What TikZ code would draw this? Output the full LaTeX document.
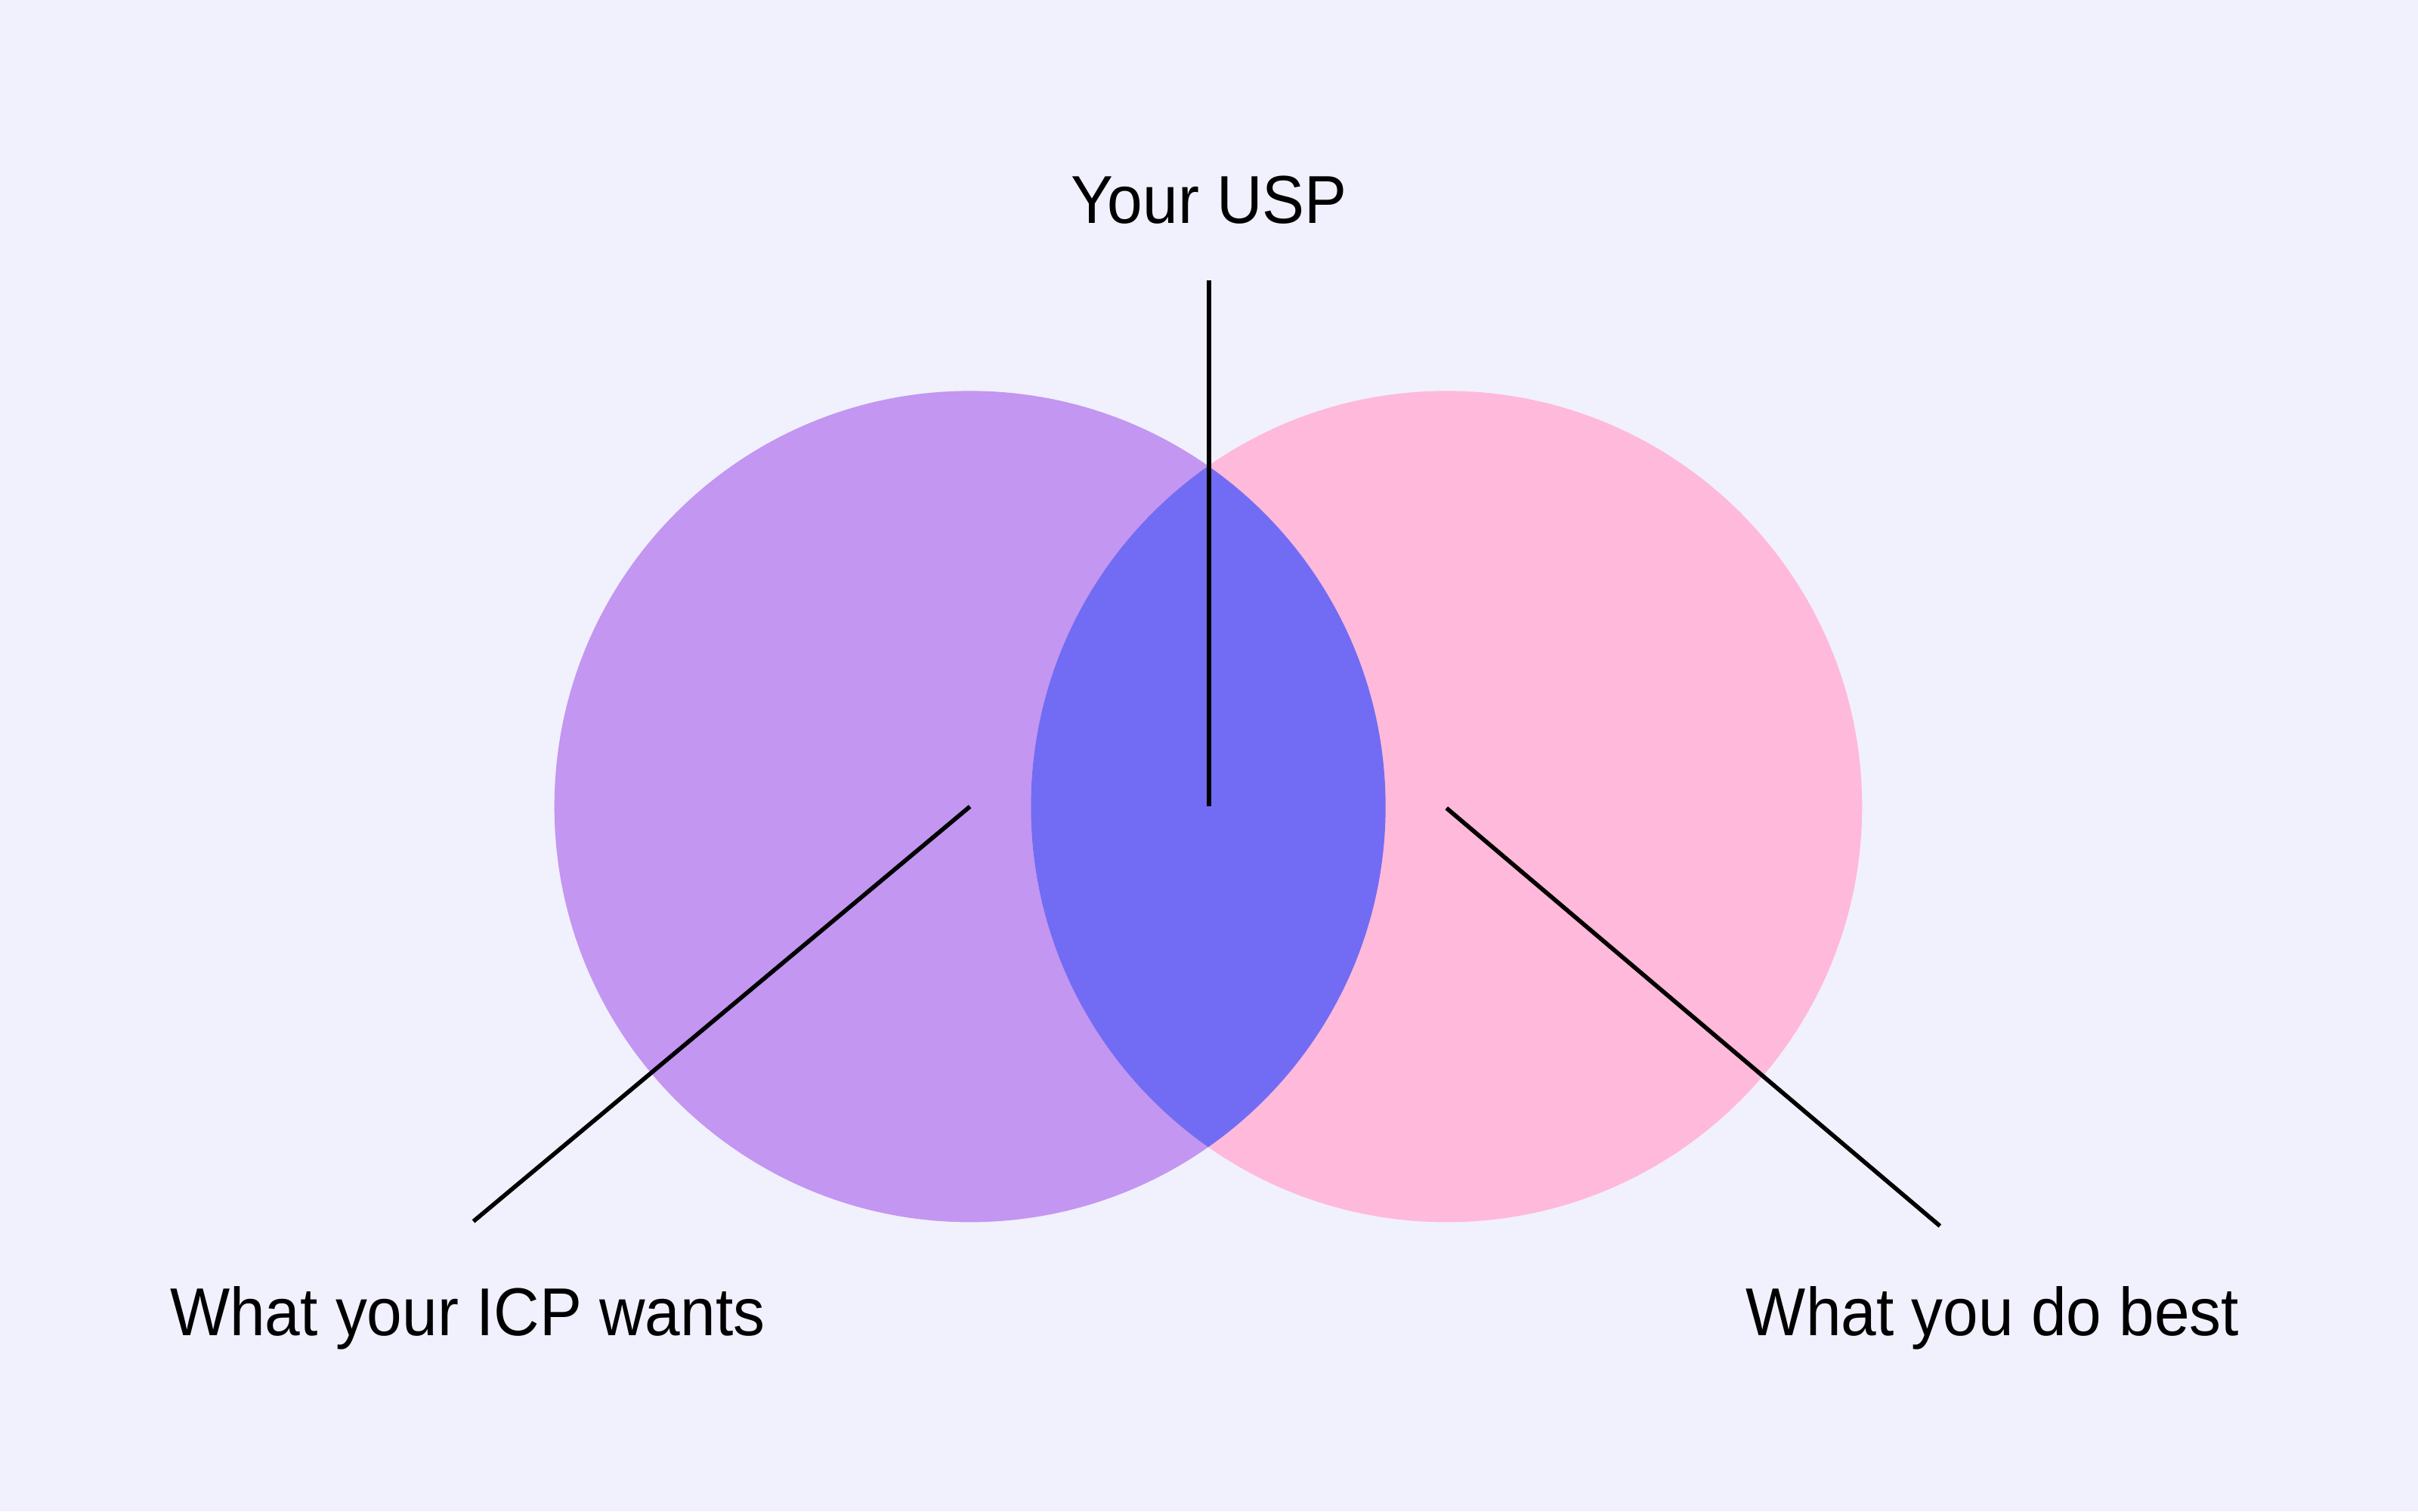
\documentclass[tikz,border=0pt]{standalone}
\usepackage{fontspec}
\setmainfont[FakeStretch=0.935]{Liberation Sans}
\definecolor{bgc}{HTML}{F1F0FD}
\definecolor{leftc}{HTML}{C396F1}
\definecolor{rightc}{HTML}{FFB9DA}
\definecolor{midc}{HTML}{716CF3}
\tikzset{
  lbl/.style={font=\fontsize{25.5}{30}\selectfont, text=black, inner sep=0pt},
  leader/.style={draw=black, line width=1.6pt},
}
\begin{document}
\begin{tikzpicture}[x=0.020408cm, y=-0.020408cm]
\fill[bgc] (0,0) rectangle (1568,980);
\useasboundingbox (0,0) rectangle (1568,980);
\coordinate (cl) at (629,523);
\coordinate (cr) at (938,523);
\fill[leftc] (cl) circle (269.5);
\fill[rightc] (cr) circle (269.5);
\begin{scope}
  \clip (cl) circle (269.5);
  \fill[midc] (cr) circle (269.5);
\end{scope}
\coordinate (usptop) at (784,182);
\coordinate (uspbot) at (784,523);
\coordinate (lend) at (307,792);
\coordinate (rend) at (1258,795);
\coordinate (rstart) at (938,524);
\draw[leader] (usptop) -- (uspbot);
\draw[leader] (cl) -- (lend);
\draw[leader] (rstart) -- (rend);
\node[lbl, anchor=base] (usp) at (784,145) {Your USP};
\node[lbl, anchor=base west] (icp) at (110,866) {What your ICP wants};
\node[lbl, anchor=base west] (best) at (1132,866) {What you do best};
\end{tikzpicture}
\end{document}
